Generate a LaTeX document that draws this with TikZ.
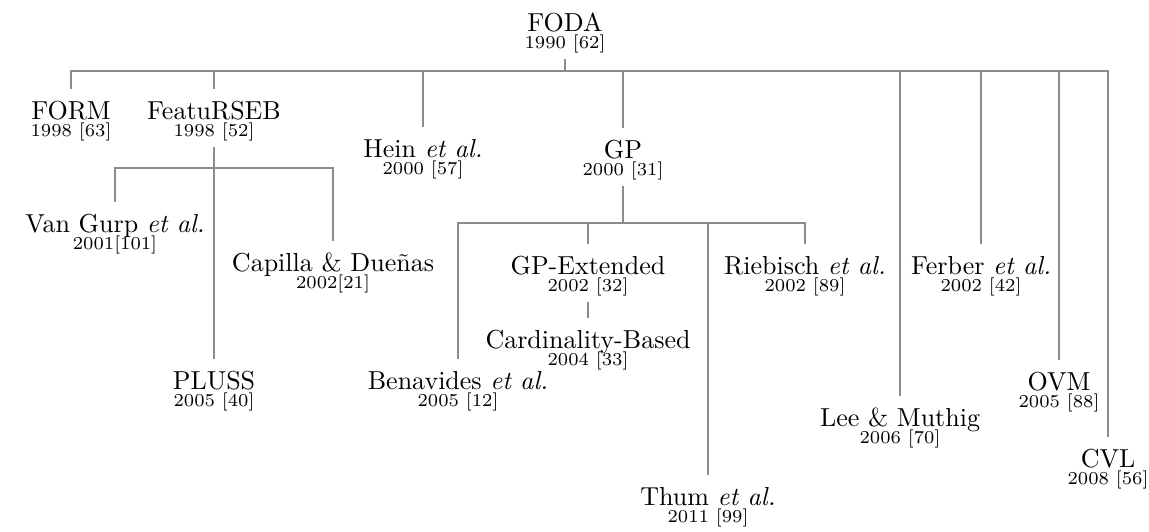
\documentclass[tikz,border=0pt]{standalone}
\usetikzlibrary{calc}

% Two-line label: method name on top, year and reference below (tight leading)
\newcommand\entrytext[2]{\vtop{\baselineskip=6.9pt\lineskiplimit=-\maxdimen
  \halign{\hfil##\hfil\cr\rule{0pt}{9.2pt}\normalsize #1\cr\scriptsize #2\cr}}}

\tikzset{
  entry/.style={inner xsep=1pt, inner ysep=2pt, anchor=base},
  link/.style={draw=black!45, line width=0.75pt}
}

\begin{document}
\begin{tikzpicture}[x=0.3846pt,y=-0.3846pt]
  \useasboundingbox (0,0) rectangle (1149,531);

  % root
  \node[entry] (foda) at (565,31) {\entrytext{FODA}{1990 [62]}};

  % first level
  \node[entry] (form)   at (71,119)   {\entrytext{FORM}{1998 [63]}};
  \node[entry] (featrs) at (214,119)  {\entrytext{FeatuRSEB}{1998 [52]}};
  \node[entry] (hein)   at (423,157)  {\entrytext{Hein \emph{et al.}}{2000 [57]}};
  \node[entry] (gp)     at (623,158)  {\entrytext{GP}{2000 [31]}};
  \node[entry] (lee)    at (900,426)  {\entrytext{Lee \& Muthig}{2006 [70]}};
  \node[entry] (ferber) at (981,274)  {\entrytext{Ferber \emph{et al.}}{2002 [42]}};
  \node[entry] (ovm)    at (1059,390) {\entrytext{OVM}{2005 [88]}};
  \node[entry] (cvl)    at (1108,467) {\entrytext{CVL}{2008 [56]}};

  % below FeatuRSEB
  \node[entry] (vangurp) at (115,232) {\entrytext{Van Gurp \emph{et al.}}{2001[101]}};
  \node[entry] (capilla) at (333,271) {\entrytext{Capilla \& Due\~nas}{2002[21]}};
  \node[entry] (pluss)   at (214,389) {\entrytext{PLUSS}{2005 [40]}};

  % below GP
  \node[entry] (benav)  at (458,389) {\entrytext{Benavides \emph{et al.}}{2005 [12]}};
  \node[entry] (gpext)  at (588,274) {\entrytext{GP-Extended}{2002 [32]}};
  \node[entry] (card)   at (588,348) {\entrytext{Cardinality-Based}{2004 [33]}};
  \node[entry] (thum)   at (708,505) {\entrytext{Thum \emph{et al.}}{2011 [99]}};
  \node[entry] (rieb)   at (805,274) {\entrytext{Riebisch \emph{et al.}}{2002 [89]}};

  % bus points
  \coordinate (fodabus) at (565,71);
  \coordinate (featbus) at (214,168);
  \coordinate (gpbus)   at (623,223);

  % connectors from FODA
  \draw[link] (foda.south) -- (fodabus);
  \foreach \c in {form,featrs,hein,gp,lee,ferber,ovm,cvl}
    \draw[link] (fodabus) -| (\c.north);

  % connectors from FeatuRSEB
  \draw[link] (featrs.south) -- (pluss.north);
  \draw[link] (featbus) -| (vangurp.north);
  \draw[link] (featbus) -| (capilla.north);

  % connectors from GP
  \draw[link] (gp.south) -- (gpbus);
  \foreach \c in {benav,gpext,thum,rieb}
    \draw[link] (gpbus) -| (\c.north);
  \draw[link] (gpext.south) -- (card.north);
\end{tikzpicture}
\end{document}
